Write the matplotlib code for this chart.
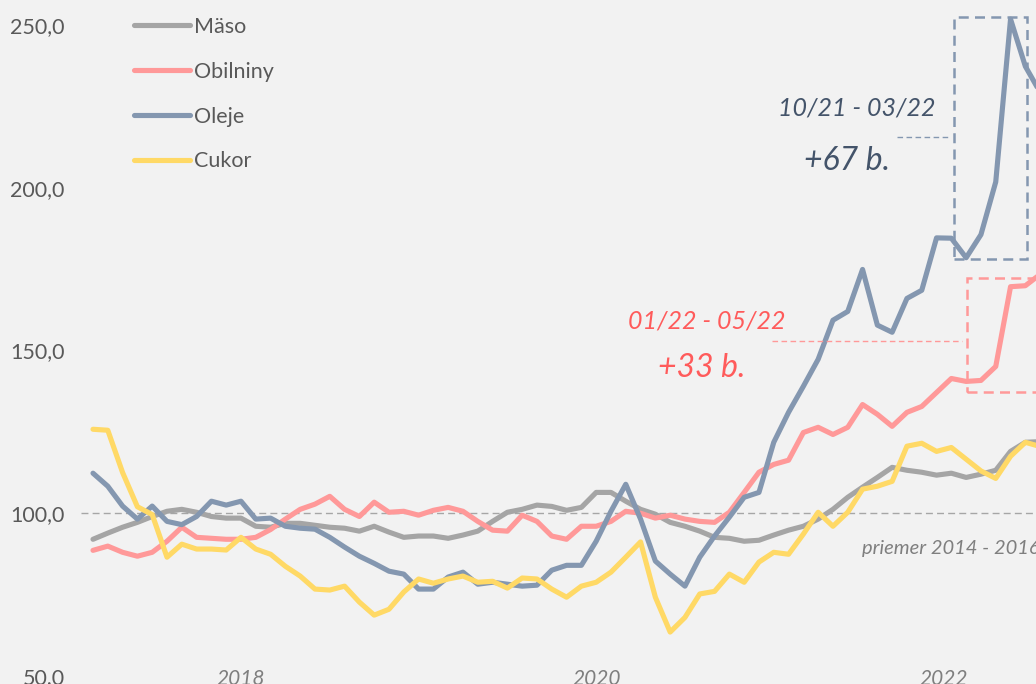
import matplotlib
matplotlib.use("Agg")
import matplotlib.pyplot as plt
from matplotlib.patches import Rectangle

# mesacne indexy FAO (2014-2016 = 100), 01/2017 - 05/2022
maso = [92.0, 93.9, 95.7, 97.2, 99.0, 100.6, 101.2, 100.3, 99.0, 98.5,
        98.5, 96.0, 95.7, 96.9, 96.9, 96.3, 95.7, 95.4, 94.5, 96.0,
        94.2, 92.6, 93.0, 93.0, 92.3, 93.3, 94.5, 97.5, 100.3, 101.2,
        102.5, 102.1, 100.9, 101.8, 106.4, 106.4, 103.7, 101.2, 99.7, 97.2,
        96.0, 94.5, 92.6, 92.3, 91.4, 91.7, 93.3, 94.8, 96.0, 98.2,
        101.2, 104.9, 108.0, 111.0, 114.1, 113.2, 112.6, 111.7, 112.3, 111.0,
        112.0, 113.2, 119.0, 121.8, 122.0]
obilniny = [88.6, 89.9, 88.0, 86.8, 88.0, 91.4, 95.7, 92.6, 92.3, 92.0,
            92.0, 92.6, 95.0, 98.2, 101.2, 102.8, 105.2, 101.2, 99.0, 103.4,
            100.3, 100.6, 99.4, 100.9, 101.8, 100.6, 97.5, 94.8, 94.5, 99.4,
            97.5, 93.0, 92.0, 96.0, 96.0, 97.5, 100.6, 100.0, 98.5, 99.4,
            98.2, 97.5, 97.2, 100.3, 106.4, 112.6, 115.0, 116.3, 124.8, 126.4,
            124.2, 126.4, 133.4, 130.4, 126.7, 131.0, 132.8, 137.1, 141.4, 140.5,
            140.8, 145.1, 169.6, 169.9, 173.4]
oleje = [112.3, 108.3, 102.2, 98.2, 102.2, 97.5, 96.5, 99.0, 103.7, 102.5,
         103.7, 98.2, 98.5, 96.0, 95.4, 95.1, 92.6, 89.6, 86.8, 84.6,
         82.2, 81.3, 76.7, 76.7, 80.4, 81.9, 78.2, 78.8, 78.2, 77.6,
         77.9, 82.5, 84.0, 84.0, 91.4, 100.6, 108.9, 98.2, 85.3, 81.3,
         77.6, 86.5, 93.0, 98.8, 104.9, 106.4, 121.8, 131.0, 139.0, 147.3,
         159.3, 162.0, 174.9, 157.8, 155.6, 166.0, 168.5, 184.6, 184.5, 178.5,
         185.6, 201.8, 251.8, 237.3, 229.3]
cukor = [125.8, 125.5, 112.5, 102.0, 99.6, 86.5, 90.5, 89.0, 89.0, 88.7,
         92.6, 89.0, 87.4, 83.7, 80.7, 76.7, 76.4, 77.6, 72.7, 68.7,
         70.5, 75.8, 79.8, 78.5, 79.8, 80.7, 78.8, 79.1, 77.0, 80.1,
         79.8, 76.7, 74.2, 77.6, 78.8, 81.9, 86.5, 91.2, 74.2, 63.5,
         68.0, 75.2, 76.0, 81.3, 78.8, 85.0, 88.0, 87.4, 93.6, 100.3,
         96.0, 100.3, 107.4, 108.3, 109.8, 120.6, 121.5, 119.0, 120.2, 116.6,
         113.0, 110.7, 117.5, 121.8, 120.5]

nazvy = ["Mäso", "Obilniny", "Oleje", "Cukor"]
farby = ["#A5A5A5", "#FF9999", "#8497B0", "#FFD966"]
roky = ["2018", "2020", "2022"]
roky_pos = [10.0, 34.0, 57.5]
y_ticks = [50, 100, 150, 200, 250]

plt.rcParams["font.family"] = ["Lato", "DejaVu Sans"]

fig = plt.figure(figsize=(10.36, 6.84), dpi=100, facecolor="#F2F2F2")
ax = fig.add_axes([0, 0, 1, 1], facecolor="#F2F2F2")
for s in ax.spines.values():
    s.set_visible(False)

x = list(range(len(maso)))
for data, nazov, farba in zip([maso, obilniny, oleje, cukor], nazvy, farby):
    ax.plot(x, data, color=farba, lw=3.7, label=nazov,
            solid_capstyle="round", solid_joinstyle="round")

# priemer 2014 - 2016
ax.plot([-0.8, 70], [100, 100], color="#A6A6A6", lw=1, ls=(0, (5, 3)), zorder=0)
ax.text(51.96, 89.3, "priemer 2014 - 2016", color="#7F7F7F", fontsize=14.5,
        style="italic", ha="left", va="center")

ax.set_xlim(-6.284, 63.72)
ax.set_ylim(47.54, 257.68)

ax.set_yticks(y_ticks)
ax.set_yticklabels([f"{v:.1f}".replace(".", ",") for v in y_ticks])
ax.tick_params(axis="y", length=0, pad=-46.5, labelsize=15.5, labelcolor="#595959")
ax.set_xticks(roky_pos)
ax.set_xticklabels(roky, style="italic")
ax.tick_params(axis="x", length=0, pad=-11, labelsize=15, labelcolor="#7F7F7F")
for lab in ax.get_yticklabels():
    lab.set_horizontalalignment("right")

# Oleje
ax.add_patch(Rectangle((58.18, 178.1), 4.93, 74.4, fill=False, ec="#8497B0",
                       lw=1.8, ls=(0, (4, 2.5))))
ax.plot([54.3, 57.8], [215.6, 215.6], color="#8497B0", lw=1, ls=(0, (4, 2.5)))
ax.text(51.6, 224.4, "10/21 - 03/22", color="#44546A", fontsize=18,
        style="italic", ha="center", va="center")
ax.text(50.95, 208.2, "+67 b.", color="#44546A", fontsize=23,
        style="italic", ha="center", va="center")

# Obilniny
ax.add_patch(Rectangle((59.05, 137.3), 6, 35.0, fill=False, ec="#FF9999",
                       lw=1.8, ls=(0, (4, 2.5)), clip_on=True))
ax.plot([45.9, 58.7], [153.0, 153.0], color="#FF9999", lw=1, ls=(0, (4, 2.5)))
ax.text(41.5, 159.1, "01/22 - 05/22", color="#FF5B5B", fontsize=18,
        style="italic", ha="center", va="center")
ax.text(41.1, 144.6, "+33 b.", color="#FF5B5B", fontsize=23,
        style="italic", ha="center", va="center")

ax.legend(loc="upper left", bbox_to_anchor=(134 / 1036, 1 - 17 / 684),
          frameon=False, fontsize=15.5, handlelength=2.6, handletextpad=0.2,
          labelspacing=1.15, borderpad=0, borderaxespad=0, labelcolor="#595959")

fig.savefig("out.png", dpi=100, facecolor="#F2F2F2")
